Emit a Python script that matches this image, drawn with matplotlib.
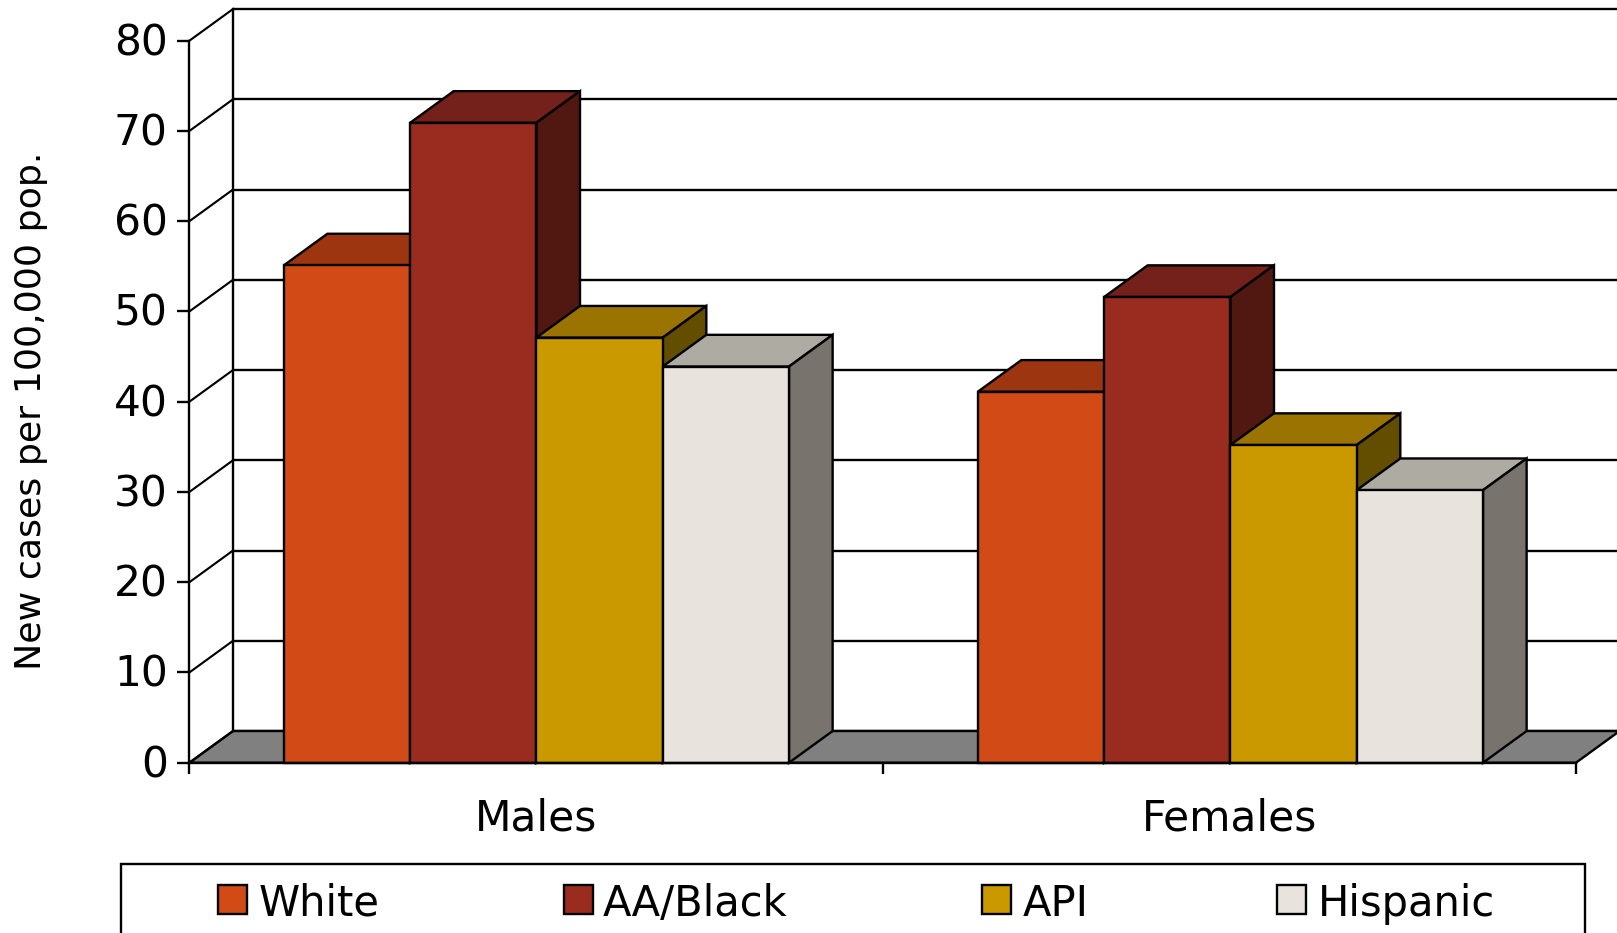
import matplotlib
matplotlib.use("Agg")
import matplotlib.pyplot as plt
from matplotlib.patches import Polygon, Rectangle
from matplotlib.transforms import ScaledTranslation

groups = ["Males", "Females"]
races = ["White", "AA/Black", "API", "Hispanic"]
males = [55.1, 70.9, 47.1, 43.9]
females = [41.1, 51.6, 35.2, 30.2]
yticks = [0, 10, 20, 30, 40, 50, 60, 70, 80]

front_colors = ["#D24A16", "#9A2C1F", "#CA9900", "#E8E4DD"]
top_colors = ["#9C3510", "#73211A", "#9A7300", "#AEABA3"]
side_colors = ["#501810", "#501810", "#634E00", "#78746D"]
floor_color = "#808080"

W, H = 1617, 933
LW = 1.7
bar_w = 0.1822
dx = 0.0629   # depth of the fake 3d, x units
dy = 3.51     # depth of the fake 3d, y units

plt.rcParams["font.family"] = ["DejaVu Sans"]
fig = plt.figure(figsize=(W / 100, H / 100), dpi=100)
ax = fig.add_axes([189.4 / W, 1 - 762.7 / H, 693.3 * 2 / W, 722 / H])
ax.set_xlim(0, 2)
ax.set_ylim(0, 80)
ax.patch.set_visible(False)

# back wall and floor
ax.add_patch(Polygon([(0, 0), (2, 0), (2 + dx, dy), (dx, dy)], closed=True, facecolor=floor_color,
                     edgecolor="black", lw=LW, clip_on=False, zorder=1))
ax.hlines([v + dy for v in yticks], dx, 2 + dx, color="black", lw=LW, clip_on=False, zorder=0.5)
ax.plot([dx, dx], [dy, 80 + dy], color="black", lw=LW, clip_on=False, zorder=1)
for v in yticks:
    ax.plot([0, dx], [v, v + dy], color="black", lw=LW * 0.9, clip_on=False, zorder=1)


def draw_group(center, values):
    left = center - 2 * bar_w
    for i, v in enumerate(values):
        x0 = left + i * bar_w
        x1 = x0 + bar_w
        z = 3 + i
        ax.add_patch(Polygon([(x0, v), (x1, v), (x1 + dx, v + dy), (x0 + dx, v + dy)], closed=True,
                             facecolor=top_colors[i], edgecolor="black", lw=LW, clip_on=False, zorder=z))
        ax.add_patch(Polygon([(x1, 0), (x1 + dx, dy), (x1 + dx, v + dy), (x1, v)], closed=True,
                             facecolor=side_colors[i], edgecolor="black", lw=LW, clip_on=False, zorder=z))
        ax.bar(x0, v, width=bar_w, align="edge", color=front_colors[i], edgecolor="black",
               lw=LW, clip_on=False, zorder=z + 0.5)


draw_group(0.5005, males)
draw_group(1.5015, females)

# axes
for s in ["top", "right"]:
    ax.spines[s].set_visible(False)
for s in ["left", "bottom"]:
    ax.spines[s].set_linewidth(LW)
    ax.spines[s].set_zorder(10)
ax.set_yticks(yticks)
ax.tick_params(axis="y", length=8.5, width=LW, labelsize=30.5, pad=7)
# labels sit a little above their ticks in the original
shift = ScaledTranslation(0, 2 / 100, fig.dpi_scale_trans)
for label in ax.get_yticklabels():
    label.set_transform(label.get_transform() + shift)
ax.set_xticks([0, 1, 2])
ax.set_xticklabels([])
ax.tick_params(axis="x", which="major", length=8, width=LW)
ax.set_xticks([0.5, 1.5], groups, minor=True)
ax.tick_params(axis="x", which="minor", length=0, labelsize=30.5, pad=25)

fig.text(31 / W, 1 - 411 / H, "New cases per 100,000 pop.", rotation=90, ha="center", va="center", fontsize=26.2)

# legend box runs off the bottom of the picture, so it is drawn by hand
leg = fig.add_axes([0, 0, 1, 1])
leg.set_xlim(0, W)
leg.set_ylim(H, 0)
leg.axis("off")
leg.add_patch(Rectangle((121, 864.3), 1463.5, 90, facecolor="white", edgecolor="black", lw=LW))
swatch_x = [218, 564, 982, 1277]
label_x = [258.5, 603, 1022.5, 1318]
for i, name in enumerate(races):
    leg.add_patch(Rectangle((swatch_x[i], 885), 29, 29, facecolor=front_colors[i], edgecolor="black", lw=LW))
    leg.text(label_x[i], 904, name, ha="left", va="center", fontsize=30)

fig.savefig("out.png", dpi=100)
